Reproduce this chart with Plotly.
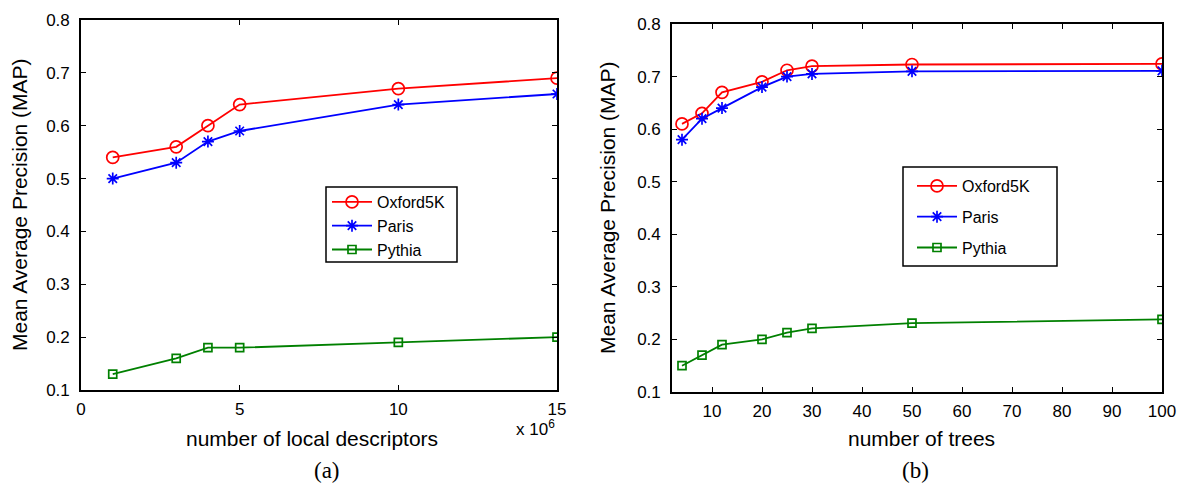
import plotly.graph_objects as go

# ---------------- data ----------------
desc_x = [1, 3, 4, 5, 10, 15]                # x 10^6
desc_oxford = [0.54, 0.56, 0.60, 0.64, 0.67, 0.69]
desc_paris = [0.50, 0.53, 0.57, 0.59, 0.64, 0.66]
desc_pythia = [0.13, 0.16, 0.18, 0.18, 0.19, 0.20]

trees_x = [4, 8, 12, 20, 25, 30, 50, 100]
trees_oxford = [0.61, 0.63, 0.67, 0.69, 0.712, 0.72, 0.723, 0.724]
trees_paris = [0.58, 0.62, 0.64, 0.68, 0.70, 0.705, 0.71, 0.711]
trees_pythia = [0.15, 0.17, 0.19, 0.20, 0.213, 0.221, 0.231, 0.238]

series_names = ["Oxford5K", "Paris", "Pythia"]
desc_ticks = [0, 5, 10, 15]
trees_ticks = [10, 20, 30, 40, 50, 60, 70, 80, 90, 100]
y_ticks = [0.1, 0.2, 0.3, 0.4, 0.5, 0.6, 0.7, 0.8]

W, H = 1184, 490
SANS = "Liberation Sans, Arial, sans-serif"
SERIF = "Liberation Serif, Times New Roman, serif"


def px(x):
    return x / W


def py(y):
    return 1 - y / H


styles = [
    dict(color="#ff0000", symbol="circle-open", size=12),
    dict(color="#0000ff", symbol="asterisk-open", size=10),
    dict(color="#008000", symbol="square-open", size=8),
]

fig = go.Figure()

panels = [
    (desc_x, [desc_oxford, desc_paris, desc_pythia], "x", "y", "legend", "a"),
    (trees_x, [trees_oxford, trees_paris, trees_pythia], "x2", "y2", "legend2", "b"),
]
for xs, ys_list, xa, ya, leg, tag in panels:
    for name, ys, st in zip(series_names, ys_list, styles):
        fig.add_trace(go.Scatter(
            x=xs, y=ys, name=name, mode="lines+markers",
            xaxis=xa, yaxis=ya, legend=leg, legendgroup=tag + name,
            line=dict(color=st["color"], width=1.8),
            marker=dict(symbol=st["symbol"], size=st["size"],
                        color=st["color"],
                        line=dict(color=st["color"], width=1.7)),
        ))

axis_common = dict(
    showline=True, linecolor="black", linewidth=1.6, mirror="ticks",
    ticks="inside", ticklen=5, tickwidth=1.2, tickcolor="black",
    showgrid=False, zeroline=False, automargin=False,
    tickfont=dict(family=SANS, size=17, color="black"),
)

fig.update_layout(
    width=W, height=H, autosize=False,
    margin=dict(l=0, r=0, t=0, b=0, pad=0, autoexpand=False),
    paper_bgcolor="white", plot_bgcolor="white",
    font=dict(family=SANS, color="black"),
    xaxis=dict(domain=[px(81), px(557)], range=[0, 15], tickvals=desc_ticks,
               anchor="y", ticklabelstandoff=3, **axis_common),
    yaxis=dict(domain=[py(390), py(20)], range=[0.1, 0.8], tickvals=y_ticks,
               tickformat=".1f", anchor="x", ticklabelstandoff=6, **axis_common),
    xaxis2=dict(domain=[px(672), px(1162)], range=[2, 100], tickvals=trees_ticks,
                anchor="y2", ticklabelstandoff=3, **axis_common),
    yaxis2=dict(domain=[py(392), py(24)], range=[0.1, 0.8], tickvals=y_ticks,
                tickformat=".1f", anchor="x2", ticklabelstandoff=6, **axis_common),
    legend=dict(x=px(327), y=py(185), xanchor="left", yanchor="top",
                borderwidth=0, bgcolor="rgba(0,0,0,0)",
                font=dict(family=SANS, size=16, color="black"),
                tracegroupgap=0, itemwidth=40),
    legend2=dict(x=px(912), y=py(169), xanchor="left", yanchor="top",
                 borderwidth=0, bgcolor="rgba(0,0,0,0)",
                 font=dict(family=SANS, size=16, color="black"),
                 tracegroupgap=7, itemwidth=40),
    showlegend=True,
    shapes=[
        dict(type="rect", xref="paper", yref="paper",
             x0=px(326), x1=px(457), y0=py(262), y1=py(187),
             line=dict(color="black", width=1.5), fillcolor="white", layer="above"),
        dict(type="rect", xref="paper", yref="paper",
             x0=px(903), x1=px(1057), y0=py(266), y1=py(167),
             line=dict(color="black", width=1.5), fillcolor="white", layer="above"),
    ],
)

ann = []
title_font = dict(family=SANS, size=21, color="black")
ann.append(dict(text="Mean Average Precision (MAP)", x=px(19), y=py(205),
                textangle=-90, font=title_font))
ann.append(dict(text="Mean Average Precision (MAP)", x=px(607), y=py(208),
                textangle=-90, font=title_font))
ann.append(dict(text="number of local descriptors", x=px(312), y=py(438),
                font=title_font))
ann.append(dict(text="number of trees", x=px(921), y=py(438), font=title_font))
ann.append(dict(text="x 10<sup>6</sup>", x=px(557), y=py(428), xanchor="right",
                font=dict(family=SANS, size=17, color="black")))
ann.append(dict(text="(a)", x=px(327), y=py(470),
                font=dict(family=SERIF, size=23, color="black")))
ann.append(dict(text="(b)", x=px(915), y=py(470),
                font=dict(family=SERIF, size=23, color="black")))
for a in ann:
    a.setdefault("xanchor", "center")
    a.update(xref="paper", yref="paper", yanchor="middle", showarrow=False)
fig.update_layout(annotations=ann)

fig.write_html(
    "out.html",
    config={"displayModeBar": False},
    post_script="document.body.style.margin='0';document.body.style.overflow='hidden';",
)
